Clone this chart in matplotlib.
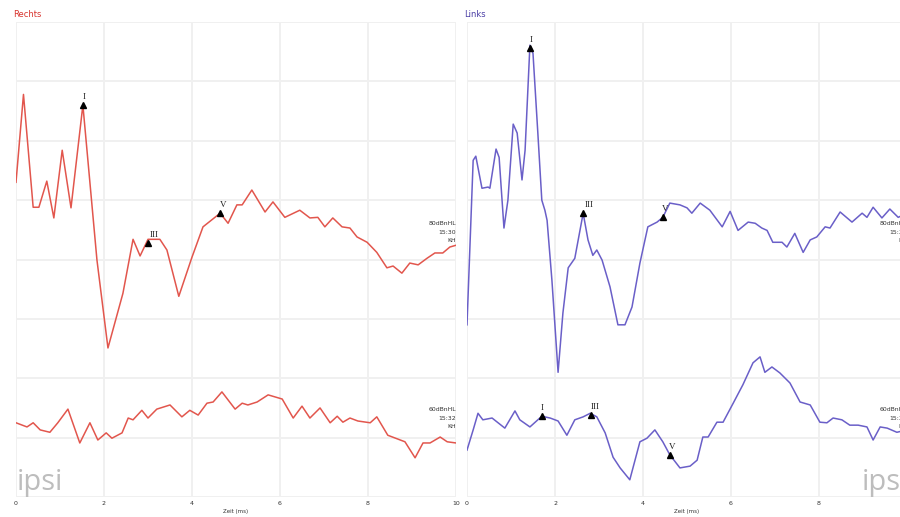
import matplotlib.pyplot as plt

# time axis in ms, amplitude in grid divisions (trace offsets included)
r80_t = [0, 0.17, 0.39, 0.52, 0.70, 0.86, 1.05, 1.25, 1.52, 1.84, 2.09, 2.43, 2.66, 2.82, 3.0, 3.27,
         3.43, 3.70, 4.0, 4.25, 4.64, 4.82, 5.02, 5.14, 5.36, 5.66, 5.84, 6.11, 6.45, 6.68, 6.86, 7.02,
         7.20, 7.41, 7.59, 7.75, 7.98, 8.20, 8.43, 8.57, 8.77, 8.95, 9.14, 9.34, 9.52, 9.70, 9.86, 10.0]
r80_v = [5.30, 6.78, 4.88, 4.88, 5.32, 4.70, 5.84, 4.87, 6.60, 3.99, 2.51, 3.43, 4.34, 4.06, 4.34, 4.34,
         4.16, 3.38, 4.04, 4.55, 4.78, 4.61, 4.92, 4.92, 5.17, 4.80, 4.97, 4.71, 4.83, 4.70, 4.71, 4.55,
         4.70, 4.55, 4.53, 4.38, 4.29, 4.12, 3.86, 3.89, 3.77, 3.94, 3.91, 4.02, 4.11, 4.11, 4.21, 4.24]

r60_t = [0, 0.25, 0.39, 0.55, 0.77, 0.95, 1.18, 1.45, 1.68, 1.86, 2.05, 2.18, 2.41, 2.55, 2.66, 2.86,
         3.0, 3.20, 3.5, 3.77, 3.95, 4.14, 4.34, 4.48, 4.68, 4.98, 5.14, 5.27, 5.48, 5.73, 6.05, 6.30,
         6.50, 6.68, 6.91, 7.14, 7.30, 7.43, 7.59, 7.77, 8.05, 8.20, 8.45, 8.84, 9.07, 9.25, 9.41, 9.64,
         9.80, 10.0]
r60_v = [1.25, 1.18, 1.25, 1.13, 1.09, 1.25, 1.48, 0.91, 1.25, 0.96, 1.08, 0.99, 1.08, 1.33, 1.30, 1.46,
         1.33, 1.48, 1.55, 1.35, 1.46, 1.38, 1.58, 1.60, 1.77, 1.48, 1.58, 1.55, 1.60, 1.72, 1.65, 1.33,
         1.53, 1.33, 1.50, 1.25, 1.36, 1.26, 1.33, 1.28, 1.25, 1.35, 1.04, 0.93, 0.66, 0.91, 0.91, 1.01,
         0.93, 0.91]

l80_t = [0, 0.14, 0.20, 0.34, 0.48, 0.52, 0.66, 0.73, 0.84, 0.93, 1.05, 1.14, 1.25, 1.32, 1.43, 1.50,
         1.61, 1.70, 1.77, 1.82, 1.93, 2.07, 2.18, 2.30, 2.45, 2.64, 2.75, 2.86, 2.95, 3.07, 3.25, 3.43,
         3.59, 3.75, 3.93, 4.11, 4.32, 4.45, 4.61, 4.84, 5.0, 5.11, 5.30, 5.52, 5.80, 5.98, 6.16, 6.39,
         6.55, 6.70, 6.82, 6.95, 7.16, 7.27, 7.45, 7.64, 7.80, 7.95, 8.14, 8.25, 8.48, 8.75, 8.98, 9.09,
         9.23, 9.43, 9.61, 9.80, 10.0]
l80_v = [2.90, 5.67, 5.74, 5.20, 5.22, 5.20, 5.86, 5.72, 4.53, 5.00, 6.28, 6.13, 5.34, 5.84, 7.61, 7.47,
         6.13, 5.00, 4.83, 4.66, 3.65, 2.10, 3.10, 3.86, 4.02, 4.78, 4.33, 4.07, 4.16, 3.99, 3.54, 2.90,
         2.90, 3.20, 3.94, 4.55, 4.63, 4.71, 4.95, 4.92, 4.87, 4.78, 4.95, 4.83, 4.55, 4.81, 4.49, 4.63,
         4.61, 4.53, 4.49, 4.29, 4.29, 4.21, 4.44, 4.12, 4.33, 4.38, 4.55, 4.53, 4.80, 4.63, 4.78, 4.71,
         4.88, 4.70, 4.85, 4.71, 4.78]

l60_t = [0, 0.14, 0.25, 0.36, 0.57, 0.86, 1.09, 1.20, 1.43, 1.70, 1.89, 2.07, 2.27, 2.45, 2.64, 2.80,
         2.95, 3.14, 3.32, 3.48, 3.70, 3.93, 4.09, 4.27, 4.45, 4.61, 4.84, 5.07, 5.23, 5.36, 5.48, 5.68,
         5.82, 6.05, 6.27, 6.50, 6.66, 6.77, 6.93, 7.11, 7.34, 7.57, 7.80, 8.02, 8.18, 8.32, 8.52, 8.70,
         8.89, 9.09, 9.23, 9.39, 9.55, 9.77, 10.0]
l60_v = [0.79, 1.13, 1.41, 1.30, 1.33, 1.16, 1.45, 1.30, 1.18, 1.36, 1.33, 1.28, 1.04, 1.30, 1.35, 1.41,
         1.35, 1.08, 0.67, 0.49, 0.29, 0.93, 0.99, 1.13, 0.93, 0.71, 0.49, 0.52, 0.62, 1.01, 1.01, 1.26,
         1.26, 1.58, 1.89, 2.26, 2.36, 2.10, 2.19, 2.09, 1.92, 1.60, 1.55, 1.26, 1.25, 1.33, 1.30, 1.21,
         1.21, 1.18, 0.96, 1.18, 1.16, 1.09, 1.13]

# peak markers: label, time, amplitude, label shift in px
r_peaks = [('I', 1.52, 6.60, 1), ('III', 3.0, 4.28, 6), ('V', 4.64, 4.78, 3)]
l_peaks = [('I', 1.43, 7.56, 1), ('III', 2.64, 4.78, 6), ('V', 4.45, 4.71, 2),
           ('I', 1.70, 1.36, 0), ('III', 2.82, 1.38, 4), ('V', 4.61, 0.71, 2)]

red = '#e2564d'
blue = '#6a5fc8'
xticks = [0, 2, 4, 6, 8, 10]

fig = plt.figure(figsize=(9, 5.17), dpi=100)
ax1 = fig.add_axes([16 / 900, 20 / 517, 440 / 900, 475 / 517])
ax2 = fig.add_axes([467 / 900, 20 / 517, 440 / 900, 475 / 517])


def setup(ax):
    ax.set_xlim(0, 10)
    ax.set_ylim(0, 8)
    ax.set_xticks(xticks)
    ax.set_xticklabels([str(x) for x in xticks], fontsize=4.5, color='#333333')
    ax.set_yticks(range(9))
    ax.set_yticklabels([])
    ax.tick_params(length=0, pad=3)
    ax.grid(True, color='#f0f0f0', lw=1.4)
    ax.set_axisbelow(True)
    for s in ax.spines.values():
        s.set_visible(False)
    ax.set_xlabel('Zeit (ms)', fontsize=4, color='#333333', labelpad=2)


def peaks(ax, pk):
    for name, t, v, dx in pk:
        ax.plot(t, v, marker='^', color='black', markersize=5, zorder=5)
        ax.annotate(name, (t, v), xytext=(dx, 4), textcoords='offset pixels', ha='center',
                    va='bottom', fontsize=6.5, family='Liberation Serif', color='#222222')


def label(ax, v, level, clock):
    ax.text(10.0, v, level + '\n' + clock + '\nKH', ha='right', va='center', fontsize=4.4,
            color='#333333', linespacing=1.8, clip_on=False)


setup(ax1)
ax1.plot(r80_t, r80_v, color=red, lw=1.1)
ax1.plot(r60_t, r60_v, color=red, lw=1.1)
peaks(ax1, r_peaks)
label(ax1, 4.46, '80dBnHL', '15:30')
label(ax1, 1.33, '60dBnHL', '15:32')
ax1.text(-0.006, 1.006, 'Rechts', transform=ax1.transAxes, fontsize=6, color='#d8342e',
         ha='left', va='bottom')
ax1.text(0.02, 0.12, 'ipsi', fontsize=21, color='#bdbdbd', ha='left', va='baseline',
         family='Open Sans')

setup(ax2)
ax2.plot(l80_t, l80_v, color=blue, lw=1.1)
ax2.plot(l60_t, l60_v, color=blue, lw=1.1)
peaks(ax2, l_peaks)
label(ax2, 4.46, '80dBnHL', '15:30')
label(ax2, 1.33, '60dBnHL', '15:32')
ax2.text(-0.006, 1.006, 'Links', transform=ax2.transAxes, fontsize=6, color='#4b3fa6',
         ha='left', va='bottom')
ax2.text(8.98, 0.12, 'ipsi', fontsize=21, color='#bdbdbd', ha='left', va='baseline',
         family='Open Sans')

fig.savefig('out.png', dpi=100)
